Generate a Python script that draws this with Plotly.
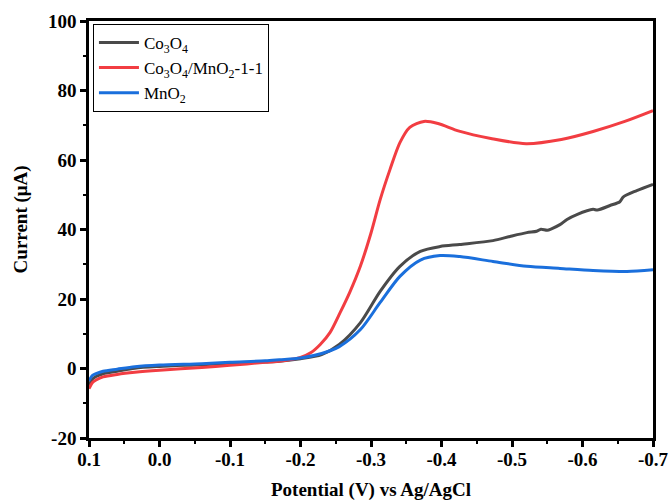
import plotly.graph_objects as go

# Linear sweep voltammetry, current vs potential (V vs Ag/AgCl)
pot_co3o4 = [0.10, 0.095, 0.09, 0.08, 0.06, 0.035, 0.0, -0.06, -0.10, -0.15, -0.17,
             -0.20, -0.23, -0.255, -0.285, -0.313, -0.341, -0.37, -0.398, -0.426,
             -0.473, -0.497, -0.521, -0.535, -0.541, -0.550, -0.556, -0.568,
             -0.578, -0.592, -0.615, -0.621, -0.639, -0.653, -0.658, -0.677, -0.70]
cur_co3o4 = [-4.8, -3.0, -2.3, -1.5, -0.8, 0.1, 0.6, 1.1, 1.5, 1.9, 2.1,
             2.8, 4.0, 6.9, 13.2, 22.2, 29.4, 33.7, 35.1, 35.7,
             36.8, 38.0, 39.1, 39.5, 40.1, 39.8, 40.2, 41.4,
             42.9, 44.3, 45.8, 45.6, 46.9, 48.0, 49.4, 51.2, 53.0]

pot_mix = [0.10, 0.095, 0.09, 0.08, 0.06, 0.035, 0.0, -0.06, -0.10, -0.15, -0.17,
           -0.20, -0.215, -0.228, -0.242, -0.256, -0.27, -0.285, -0.30, -0.313,
           -0.327, -0.341, -0.355, -0.375, -0.395, -0.425, -0.47, -0.52, -0.57,
           -0.615, -0.66, -0.70]
cur_mix = [-5.8, -4.0, -3.3, -2.4, -1.7, -1.1, -0.5, 0.3, 0.9, 1.8, 2.1,
           3.2, 4.6, 6.9, 10.4, 16.0, 22.0, 29.5, 39.0, 48.6,
           57.3, 65.0, 69.4, 71.1, 70.5, 68.3, 66.2, 64.7, 65.9,
           68.2, 71.1, 74.2]

pot_mno2 = [0.10, 0.095, 0.09, 0.08, 0.06, 0.035, 0.0, -0.06, -0.10, -0.15, -0.17,
            -0.20, -0.23, -0.255, -0.285, -0.313, -0.341, -0.37, -0.398, -0.426,
            -0.473, -0.521, -0.568, -0.615, -0.663, -0.70]
cur_mno2 = [-3.5, -2.0, -1.5, -0.8, -0.2, 0.5, 1.0, 1.4, 1.8, 2.2, 2.5,
            3.0, 4.3, 6.3, 11.2, 19.0, 26.5, 31.2, 32.5, 32.2,
            30.8, 29.4, 28.8, 28.2, 27.9, 28.4]

x_ticks = [0.1, 0.0, -0.1, -0.2, -0.3, -0.4, -0.5, -0.6, -0.7]
x_labels = ["0.1", "0.0", "-0.1", "-0.2", "-0.3", "-0.4", "-0.5", "-0.6", "-0.7"]
y_ticks = [-20, 0, 20, 40, 60, 80, 100]
y_labels = ["-20", "0", "20", "40", "60", "80", "100"]

FONT = "Liberation Serif"

fig = go.Figure()
series = [
    ("Co<sub>3</sub>O<sub>4</sub>", pot_co3o4, cur_co3o4, "#4a4a4a"),
    ("Co<sub>3</sub>O<sub>4</sub>/MnO<sub>2</sub>-1-1", pot_mix, cur_mix, "#f23d42"),
    ("MnO<sub>2</sub>", pot_mno2, cur_mno2, "#1a6fdc"),
]
for name, xs, ys, col in series:
    fig.add_trace(go.Scatter(
        x=xs, y=ys, mode="lines", name=name,
        line=dict(color=col, width=3, shape="spline", smoothing=0.8),
    ))

axis_common = dict(
    showline=True, linecolor="black", linewidth=2.5, mirror=True,
    ticks="outside", ticklen=6, tickwidth=2.5, tickcolor="black",
    showgrid=False, zeroline=False, automargin=False,
    tickfont=dict(family=FONT, size=19, color="black", weight="bold"),
    title_font=dict(family=FONT, size=19, color="black", weight="bold"),
)

fig.update_xaxes(
    range=[0.1, -0.7], tickvals=x_ticks, ticktext=x_labels,
    minor=dict(dtick=0.05, tick0=0.0, ticks="outside", ticklen=3, tickwidth=2, tickcolor="black"),
    ticklabelstandoff=-4,
    title_text="Potential (V) vs Ag/AgCl", title_standoff=26,
    **axis_common,
)
fig.update_yaxes(
    range=[-20, 100], tickvals=y_ticks, ticktext=y_labels,
    minor=dict(dtick=10, tick0=0, ticks="outside", ticklen=3, tickwidth=2, tickcolor="black"),
    **axis_common,
)

# y-axis title, sitting slightly above the plot's vertical centre
fig.add_annotation(
    text="<b>Current (μA)</b>", textangle=-90,
    xref="paper", yref="paper", x=-0.12, y=0.525,
    xanchor="center", yanchor="middle", showarrow=False,
    font=dict(family=FONT, size=19, color="black"),
)

fig.update_layout(
    width=669, height=501,
    margin=dict(l=89, r=16, t=21, b=63),
    paper_bgcolor="white", plot_bgcolor="white",
    showlegend=True,
    legend=dict(
        x=0.007, y=0.993, xanchor="left", yanchor="top",
        bgcolor="white", bordercolor="black", borderwidth=1,
        font=dict(family=FONT, size=17, color="black"),
        itemwidth=40, tracegroupgap=0,
    ),
)

fig.write_html("out.html")
